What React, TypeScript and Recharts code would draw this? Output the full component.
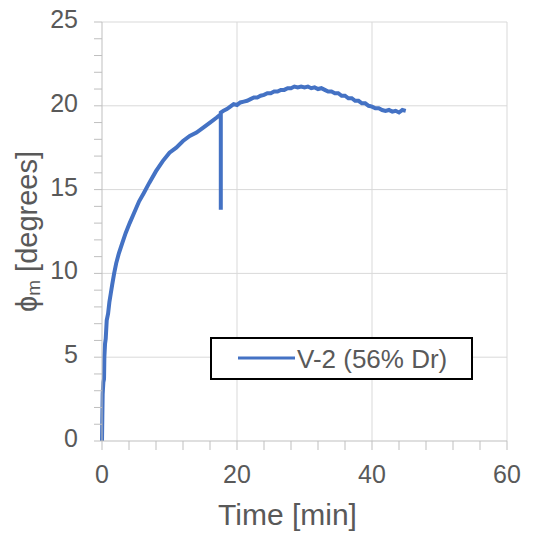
import React from 'react';
import { LineChart, Line, XAxis, YAxis, CartesianGrid, Legend, Label } from 'recharts';

// values
const timeMin = [
  0, 0.05, 0.1, 0.2, 0.3, 0.35, 0.45, 0.55, 0.7, 0.9, 1.1, 1.3, 1.5, 1.8, 2.1, 2.5, 3, 3.5, 4.1, 4.75,
  5.5, 6.2, 7, 8, 9, 10, 11, 12, 13, 14, 15, 16, 17, 17.6, 17.6, 17.6, 18, 18.5, 19, 19.5,
  20, 20.5, 21, 21.5, 22, 22.5, 23, 23.5, 24, 24.5, 25, 25.5, 26, 26.5, 27, 27.5, 28, 28.5, 29, 29.5,
  30, 30.5, 31, 31.5, 32, 32.5, 33, 33.5, 34, 34.5, 35, 35.5, 36, 36.5, 37, 37.5, 38, 38.5, 39, 39.5,
  40, 40.5, 41, 41.5, 42, 42.5, 43, 43.5, 44, 44.5, 45,
];
const phiDeg = [
  0, 1.5, 2.8, 3.5, 3.7, 5, 5.8, 6.1, 7.2, 7.6, 8.3, 8.8, 9.3, 10, 10.6, 11.2, 11.8, 12.4, 13, 13.6,
  14.3, 14.8, 15.4, 16.1, 16.7, 17.2, 17.5, 17.9, 18.2, 18.4, 18.7, 19.0, 19.3, 19.5, 13.8, 19.6, 19.7, 19.8, 19.95, 20.1,
  20.05, 20.2, 20.25, 20.3, 20.4, 20.5, 20.5, 20.6, 20.65, 20.75, 20.75, 20.85, 20.85, 20.95, 20.95, 21.05, 21.05, 21.15, 21.1, 21.15,
  21.1, 21.15, 21.05, 21.1, 21.0, 21.05, 20.95, 20.85, 20.85, 20.75, 20.75, 20.6, 20.6, 20.45, 20.45, 20.3, 20.3, 20.15, 20.15, 20.0,
  19.95, 19.85, 19.85, 19.75, 19.7, 19.75, 19.65, 19.7, 19.6, 19.75, 19.7,
];

const xTicks = [0, 4, 8, 12, 16, 20, 24, 28, 32, 36, 40, 44, 48, 52, 56, 60];
const xMajor = [20, 40, 60];
const yTicks = [0, 1, 2, 3, 4, 5, 6, 7, 8, 9, 10, 11, 12, 13, 14, 15, 16, 17, 18, 19, 20, 21, 22, 23, 24, 25];
const yMajor = [5, 10, 15, 20, 25];

const seriesName = 'V-2 (56% Dr)';

const data = timeMin.map((t, i) => ({ t, phi: phiDeg[i] }));

const textColor = '#595959';
const axisColor = '#bfbfbf';
const lineColor = '#4472C4';
const font = 'Liberation Sans, Arial, sans-serif';

const XTick = (props: any) => {
  const { x, y, payload } = props;
  const v = payload.value;
  return (
    <g>
      <line x1={x} y1={y} x2={x} y2={y + 9} stroke={axisColor} strokeWidth={1} />
      {v % 20 === 0 && (
        <text x={x} y={y + 42} textAnchor="middle" fill={textColor} fontSize={25} fontFamily={font}>
          {v}
        </text>
      )}
    </g>
  );
};

const YTick = (props: any) => {
  const { x, y, payload } = props;
  const v = payload.value;
  return (
    <g>
      <line x1={x - 8} y1={y} x2={x} y2={y} stroke={axisColor} strokeWidth={1} />
      {v % 5 === 0 && (
        <text x={x - 24} y={y + 6} textAnchor="end" fill={textColor} fontSize={25} fontFamily={font}>
          {v}
        </text>
      )}
    </g>
  );
};

const YLabel = (props: any) => {
  const { viewBox } = props;
  const cx = viewBox.x + 27;
  const cy = viewBox.y + viewBox.height / 2;
  return (
    <text
      x={cx}
      y={cy}
      transform={`rotate(-90, ${cx}, ${cy})`}
      textAnchor="middle"
      dominantBaseline="central"
      fill={textColor}
      fontSize={29}
      fontFamily={font}
    >
      ϕ<tspan fontSize={19} dy={6}>m</tspan>
      <tspan dy={-6}> [degrees]</tspan>
    </text>
  );
};

const XLabel = (props: any) => {
  const { viewBox } = props;
  return (
    <text
      x={viewBox.x + viewBox.width / 2 - 17}
      y={viewBox.y + 84}
      textAnchor="middle"
      fill={textColor}
      fontSize={30}
      fontFamily={font}
    >
      Time [min]
    </text>
  );
};

const LegendBox = () => (
  <div
    style={{
      width: 259,
      height: 39,
      border: '2px solid #000',
      background: '#fff',
      position: 'relative',
      fontFamily: font,
    }}
  >
    <svg width={259} height={39} style={{ position: 'absolute', left: 0, top: 0 }}>
      <line x1={26} y1={19} x2={83} y2={19} stroke={lineColor} strokeWidth={3} />
      <text x={85} y={29} fill={textColor} fontSize={26} fontFamily={font}>
        {seriesName}
      </text>
    </svg>
  </div>
);

export default function App() {
  return (
    <div style={{ position: 'absolute', left: 0, top: 0, width: 535, height: 533, background: '#fff' }}>
      <LineChart width={535} height={533} data={data} margin={{ top: 22, right: 28, left: 0, bottom: 0 }}>
        <CartesianGrid
          stroke="#d9d9d9"
          horizontalValues={yMajor}
          verticalValues={xMajor}
        />
        <XAxis
          dataKey="t"
          type="number"
          domain={[0, 60]}
          ticks={xTicks}
          interval={0}
          height={92}
          tickSize={0}
          tickMargin={0}
          tickLine={false}
          axisLine={{ stroke: axisColor }}
          tick={<XTick />}
        >
          <Label content={<XLabel />} />
        </XAxis>
        <YAxis
          type="number"
          domain={[0, 25]}
          ticks={yTicks}
          interval={0}
          width={102}
          tickSize={0}
          tickMargin={0}
          tickLine={false}
          axisLine={{ stroke: axisColor }}
          tick={<YTick />}
        >
          <Label content={<YLabel />} />
        </YAxis>
        <Legend
          layout="vertical"
          verticalAlign="middle"
          align="center"
          content={<LegendBox />}
          wrapperStyle={{ left: 210, top: 337, width: 263, height: 43 }}
        />
        <Line
          dataKey="phi"
          name={seriesName}
          type="linear"
          stroke={lineColor}
          strokeWidth={4}
          dot={false}
          isAnimationActive={false}
        />
      </LineChart>
    </div>
  );
}
